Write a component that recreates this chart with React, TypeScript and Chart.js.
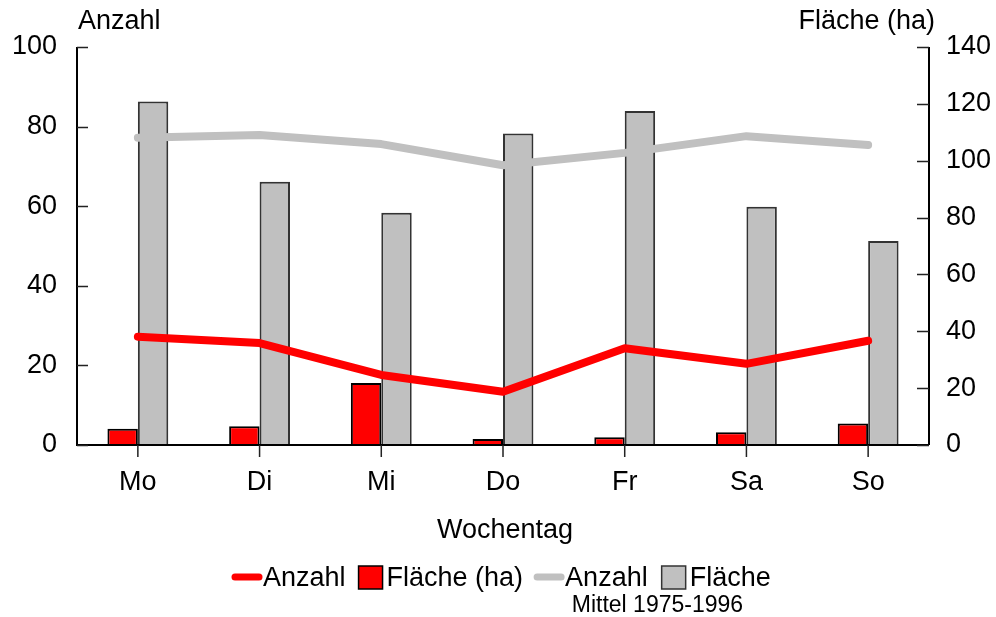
import React, { useEffect, useRef } from "react";
import { Chart, registerables } from "chart.js";

Chart.register(...registerables);

const days = ["Mo", "Di", "Mi", "Do", "Fr", "Sa", "So"];
const anzahl = [27.2, 25.6, 17.6, 13.4, 24.3, 20.4, 26.2];
const flaecheHa = [5.7, 6.6, 21.8, 2.1, 2.7, 4.5, 7.6];
const anzahlMittel = [77.2, 77.9, 75.6, 70.3, 73.4, 77.6, 75.4];
const flaecheMittel = [120.8, 92.6, 81.7, 109.6, 117.5, 83.8, 71.8];
const leftTicks = [0, 20, 40, 60, 80, 100];
const rightTicks = [0, 20, 40, 60, 80, 100, 120, 140];

const FONT = "'Liberation Sans', Arial, Helvetica, sans-serif";
const RED = "#ff0000";
const GRAY = "#c0c0c0";
const FS = 27;

const decorPlugin = {
  id: "decor",
  afterDatasetsDraw(chart: any) {
    const ctx = chart.ctx as CanvasRenderingContext2D;
    const { left, right, bottom } = chart.chartArea;
    const yL = chart.scales.y;
    const yR = chart.scales.y1;
    const x = chart.scales.x;
    ctx.save();
    ctx.strokeStyle = "#000";
    ctx.lineWidth = 2;
    // axis lines
    ctx.beginPath();
    ctx.moveTo(left, yL.getPixelForValue(100));
    ctx.lineTo(left, bottom);
    ctx.lineTo(right, bottom);
    ctx.moveTo(right, yR.getPixelForValue(140));
    ctx.lineTo(right, bottom);
    ctx.stroke();
    ctx.lineWidth = 1.5;
    ctx.strokeStyle = "#222";
    ctx.beginPath();
    leftTicks.forEach((v) => {
      const py = Math.round(yL.getPixelForValue(v)) + 0.5;
      ctx.moveTo(left, py);
      ctx.lineTo(left + 11, py);
    });
    rightTicks.forEach((v) => {
      const py = Math.round(yR.getPixelForValue(v)) + 0.5;
      ctx.moveTo(right, py);
      ctx.lineTo(right - 12, py);
    });
    days.forEach((_, i) => {
      const px = x.getPixelForValue(i);
      ctx.moveTo(px, bottom);
      ctx.lineTo(px, bottom + 12);
    });
    ctx.stroke();

    // axis titles
    ctx.fillStyle = "#000";
    ctx.font = `${FS}px ${FONT}`;
    ctx.textBaseline = "middle";
    ctx.textAlign = "left";
    ctx.fillText("Anzahl", left + 1, 22);
    ctx.textAlign = "right";
    ctx.fillText("Fläche (ha)", right + 6, 22);
    ctx.textAlign = "center";
    ctx.fillText("Wochentag", (left + right) / 2 + 2, 531);

    // legend
    const ly = 578;
    let cx = 232;
    ctx.textAlign = "left";
    const drawLine = (color: string) => {
      ctx.save();
      ctx.strokeStyle = color;
      ctx.lineWidth = 7;
      ctx.lineCap = "round";
      ctx.beginPath();
      ctx.moveTo(cx + 3, ly - 1);
      ctx.lineTo(cx + 27, ly - 1);
      ctx.stroke();
      ctx.restore();
      cx += 31;
    };
    const drawBox = (color: string, border: string) => {
      ctx.save();
      ctx.fillStyle = color;
      ctx.strokeStyle = border;
      ctx.lineWidth = 1.5;
      ctx.fillRect(cx, ly - 12, 24, 23);
      ctx.strokeRect(cx, ly - 12, 24, 23);
      ctx.restore();
      cx += 28;
    };
    const drawText = (t: string, gap: number) => {
      ctx.fillStyle = "#000";
      ctx.fillText(t, cx, ly + 1);
      cx += ctx.measureText(t).width + gap;
    };
    drawLine(RED);
    drawText("Anzahl", 13);
    drawBox(RED, "#000");
    drawText("Fläche (ha)", 11);
    const grayStart = cx;
    drawLine(GRAY);
    drawText("Anzahl", 14);
    drawBox(GRAY, "#333");
    drawText("Fläche", 0);
    const grayEnd = cx;
    ctx.font = `23px ${FONT}`;
    ctx.textAlign = "center";
    ctx.fillText("Mittel 1975-1996", (grayStart + grayEnd) / 2 + 5, 606);
    ctx.restore();
  },
};

export default function App() {
  const ref = useRef<HTMLCanvasElement | null>(null);
  useEffect(() => {
    document.body.style.margin = "0";
    if (!ref.current) return;
    const tickFont = { size: FS, family: FONT };
    const chart = new Chart(ref.current, {
      data: {
        labels: days,
        datasets: [
          {
            type: "line",
            label: "Anzahl",
            data: anzahl,
            yAxisID: "y",
            borderColor: RED,
            borderWidth: 8,
            pointRadius: 0,
            borderCapStyle: "round",
            borderJoinStyle: "round",
            order: 0,
          },
          {
            type: "line",
            label: "Anzahl Mittel",
            data: anzahlMittel,
            yAxisID: "y",
            borderColor: GRAY,
            borderWidth: 8,
            pointRadius: 0,
            borderCapStyle: "round",
            borderJoinStyle: "round",
            order: 0,
          },
          {
            type: "bar",
            label: "Fläche (ha)",
            data: flaecheHa,
            yAxisID: "y1",
            backgroundColor: RED,
            borderColor: "#000",
            borderWidth: 2,
            categoryPercentage: 0.5,
            barPercentage: 1,
            order: 1,
          },
          {
            type: "bar",
            label: "Fläche",
            data: flaecheMittel,
            yAxisID: "y1",
            backgroundColor: GRAY,
            borderColor: "#333",
            borderWidth: 2,
            categoryPercentage: 0.5,
            barPercentage: 1,
            order: 1,
          },
        ],
      } as any,
      options: {
        animation: false,
        responsive: true,
        maintainAspectRatio: false,
        layout: { padding: { top: 47, left: 0, right: 0, bottom: 0 } },
        plugins: {
          legend: { display: false },
          tooltip: { enabled: false },
          title: { display: false },
        },
        scales: {
          x: {
            offset: true,
            grid: { display: false, drawTicks: false },
            border: { display: false },
            ticks: { font: tickFont, color: "#000", padding: 21 },
            afterFit: (s: any) => {
              s.height = 172;
            },
          },
          y: {
            position: "left",
            min: 0,
            max: 100,
            grid: { display: false, drawTicks: false },
            border: { display: false },
            ticks: { stepSize: 20, font: tickFont, color: "#000", padding: 20 },
            afterFit: (s: any) => {
              s.width = 77;
            },
          },
          y1: {
            position: "right",
            min: 0,
            max: 140,
            grid: { display: false, drawTicks: false },
            border: { display: false },
            ticks: { stepSize: 20, font: tickFont, color: "#000", padding: 17 },
            afterFit: (s: any) => {
              s.width = 67;
            },
          },
        },
      } as any,
      plugins: [decorPlugin],
    });
    return () => chart.destroy();
  }, []);
  return (
    <div style={{ position: "absolute", left: 0, top: 0, width: 996, height: 617 }}>
      <canvas ref={ref} />
    </div>
  );
}
